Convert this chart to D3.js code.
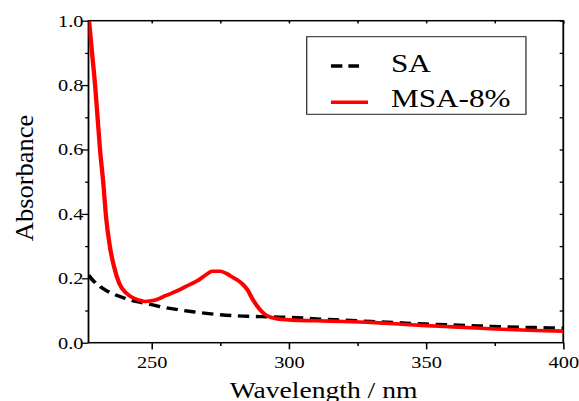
<!DOCTYPE html>
<html>
<head>
<meta charset="utf-8">
<script src="https://cdn.jsdelivr.net/npm/d3@7"></script>
<style>
  html, body { margin: 0; padding: 0; background: #fff; }
  svg { display: block; }
  svg text { font-family: "Liberation Serif", "Times New Roman", serif !important; fill: #000; }
</style>
</head>
<body>
<div id="chart"></div>
<script>
// UV-Vis absorbance spectra
const saWavelength = [227, 229, 232, 235, 238, 242, 246, 250, 255, 260, 265, 270, 275, 280, 285, 290, 300, 310, 320, 330, 340, 350, 360, 370, 380, 390, 400];
const saAbsorbance = [0.21, 0.19, 0.17, 0.155, 0.145, 0.133, 0.125, 0.118, 0.109, 0.102, 0.096, 0.091, 0.087, 0.084, 0.082, 0.081, 0.079, 0.074, 0.070, 0.066, 0.062, 0.058, 0.055, 0.052, 0.049, 0.047, 0.045];

const msaWavelength = [227.2, 228.3, 229.4, 230.3, 231.2, 232.4, 233.4, 234.8, 236.3, 238.2, 240.9, 243, 245.1, 247.5, 250, 253, 255, 258, 261, 264, 267, 270, 272, 275, 277, 279, 281, 283, 285, 287, 289, 291, 293, 296, 300, 310, 320, 330, 340, 350, 360, 370, 380, 390, 400];
const msaAbsorbance = [1.0, 0.9, 0.8, 0.7, 0.6, 0.495, 0.39, 0.298, 0.236, 0.184, 0.153, 0.14, 0.133, 0.128, 0.13, 0.138, 0.146, 0.156, 0.168, 0.181, 0.194, 0.212, 0.222, 0.222, 0.216, 0.206, 0.196, 0.183, 0.163, 0.132, 0.108, 0.09, 0.08, 0.074, 0.071, 0.068, 0.066, 0.063, 0.058, 0.053, 0.049, 0.045, 0.041, 0.038, 0.036];

const xMajorTicks = [250, 300, 350, 400];
const xMinorTicks = [275, 325, 375];
const yMajorTicks = [0, 0.2, 0.4, 0.6, 0.8, 1.0];
const yMinorTicks = [0.1, 0.3, 0.5, 0.7, 0.9];
const seriesNames = ["SA", "MSA-8%"];

// The figure is drawn in a narrower user space and stretched horizontally.
const W = 579, H = 401, stretch = 1.2;
const VW = W / stretch;
const plot = { left: 73.75, right: 469.4, top: 20.7, bottom: 342.7 };
const serif = "'Liberation Serif', 'Times New Roman', serif";

const svg = d3.select("#chart").append("svg")
  .attr("width", W).attr("height", H)
  .attr("viewBox", `0 0 ${VW} ${H}`)
  .attr("preserveAspectRatio", "none");

const x = d3.scaleLinear().domain([227, 400]).range([plot.left, plot.right]);
const y = d3.scaleLinear().domain([0, 1.0]).range([plot.bottom, plot.top]);

svg.append("defs").append("clipPath").attr("id", "plotClip")
  .append("rect")
  .attr("x", plot.left).attr("y", plot.top)
  .attr("width", plot.right - plot.left).attr("height", plot.bottom - plot.top);

// Bottom axis: major ticks with labels, minor ticks without
const bottomMajor = svg.append("g")
  .attr("transform", `translate(0,${plot.bottom})`)
  .call(d3.axisBottom(x).tickValues(xMajorTicks).tickSize(6.7).tickPadding(6.6).tickFormat(d3.format("d")));
const bottomMinor = svg.append("g")
  .attr("transform", `translate(0,${plot.bottom})`)
  .call(d3.axisBottom(x).tickValues(xMinorTicks).tickSize(3.3).tickFormat(""));

// Left axis
const leftMajor = svg.append("g")
  .attr("transform", `translate(${plot.left},0)`)
  .call(d3.axisLeft(y).tickValues(yMajorTicks).tickSize(5.6).tickPadding(-1.4).tickFormat(d3.format(".1f")));
const leftMinor = svg.append("g")
  .attr("transform", `translate(${plot.left},0)`)
  .call(d3.axisLeft(y).tickValues(yMinorTicks).tickSize(2.8).tickFormat(""));

// Top and right axes: inward ticks only
const topAxis = svg.append("g")
  .attr("transform", `translate(0,${plot.top})`)
  .call(d3.axisTop(x).tickValues(xMajorTicks.concat(xMinorTicks)).tickSize(-2.7).tickFormat(""));
const rightAxis = svg.append("g")
  .attr("transform", `translate(${plot.right},0)`)
  .call(d3.axisRight(y).tickValues(yMajorTicks.concat(yMinorTicks).filter(d => d > 0)).tickSize(-3).tickFormat(""));

[bottomMajor, bottomMinor, leftMajor, leftMinor, topAxis, rightAxis].forEach(g => {
  g.attr("font-family", serif).attr("font-size", 17);
  g.select(".domain").remove();
  g.selectAll(".tick line").attr("stroke", "#000").attr("stroke-width", 1.3);
});
[bottomMajor, leftMajor].forEach(g => {
  g.selectAll(".tick text").attr("font-size", 17).style("font-family", serif);
});
bottomMajor.selectAll(".tick text").attr("dy", "0.71em");

// Frame
svg.append("rect")
  .attr("x", plot.left).attr("y", plot.top)
  .attr("width", plot.right - plot.left).attr("height", plot.bottom - plot.top)
  .attr("fill", "none").attr("stroke", "#000").attr("stroke-width", 1.5);

// Spectra
const line = d3.line().curve(d3.curveMonotoneX);
const saPoints = saWavelength.map((w, i) => [x(w), y(saAbsorbance[i])]);
const msaPoints = msaWavelength.map((w, i) => [x(w), y(msaAbsorbance[i])]);

const curves = svg.append("g").attr("clip-path", "url(#plotClip)");
curves.append("path")
  .attr("d", line(saPoints))
  .attr("fill", "none").attr("stroke", "#000")
  .attr("stroke-width", 3.4).attr("stroke-dasharray", "9.5,5.5");
curves.append("path")
  .attr("d", line(msaPoints))
  .attr("fill", "none").attr("stroke", "#ff0000")
  .attr("stroke-width", 3.6).attr("stroke-linejoin", "round");

// Legend
const legend = svg.append("g");
legend.append("rect")
  .attr("x", 255.6).attr("y", 36.7).attr("width", 182.7).attr("height", 77.6)
  .attr("fill", "#fff").attr("stroke", "#222").attr("stroke-width", 1);
legend.append("line")
  .attr("x1", 275.8).attr("x2", 299.2).attr("y1", 66).attr("y2", 66)
  .attr("stroke", "#000").attr("stroke-width", 3.4).attr("stroke-dasharray", "9.5,5");
legend.append("line")
  .attr("x1", 275.8).attr("x2", 306.7).attr("y1", 102.3).attr("y2", 102.3)
  .attr("stroke", "#ff0000").attr("stroke-width", 3.6);
legend.append("text").attr("x", 325.8).attr("y", 71.7).attr("font-size", 26).style("font-family", serif).text(seriesNames[0]);
legend.append("text").attr("x", 325.8).attr("y", 106.7).attr("font-size", 26).style("font-family", serif).text(seriesNames[1]);

// Axis titles
svg.append("text")
  .attr("transform", `translate(27.5,178) rotate(-90) scale(1,0.82)`)
  .attr("text-anchor", "middle").attr("font-size", 26.5)
  .style("font-family", serif)
  .text("Absorbance");
svg.append("text")
  .attr("x", 269.6).attr("y", 398.5)
  .attr("text-anchor", "middle").attr("font-size", 23)
  .style("font-family", serif)
  .text("Wavelength / nm");
</script>
</body>
</html>
